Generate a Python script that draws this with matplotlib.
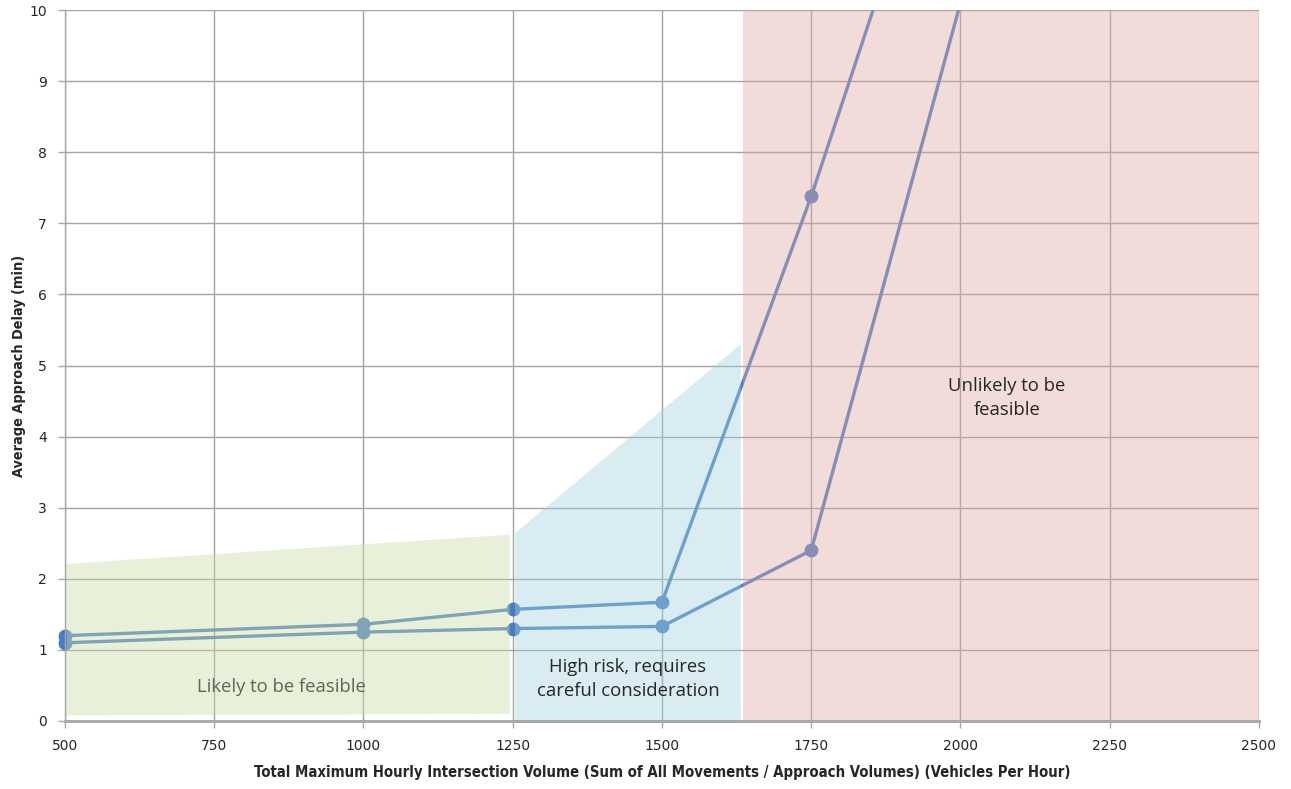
import matplotlib
matplotlib.use("Agg")
import matplotlib.pyplot as plt
from matplotlib.patches import Polygon, Rectangle

# Intersection volume (veh/h) and average approach delay (min)
volumes = [500, 1000, 1250, 1500, 1750, 2000]
delay_upper = [1.20, 1.36, 1.57, 1.67, 7.38, 13.7]
delay_lower = [1.10, 1.25, 1.30, 1.33, 2.40, 10.1]

x_ticks = [500, 750, 1000, 1250, 1500, 1750, 2000, 2250, 2500]
y_ticks = list(range(0, 11))

# Feasibility zones (volume, delay) outlines
zone_feasible = [(503, 0.08), (1245, 0.1), (1245, 2.62), (503, 2.21)]
zone_risk = [(1254, -0.03), (1632, -0.03), (1632, 5.30), (1254, 2.64)]
zone_unlikely_x = (1636, 2500)

fig = plt.figure(figsize=(12.91, 7.89), dpi=100)
ax = fig.add_axes([0.0503, 0.0862, 0.9249, 0.9011])
ax.set_xlim(500, 2500)
ax.set_ylim(0, 10)

grid_col = "#a3a3a3"
ax.set_xticks(x_ticks)
ax.set_yticks(y_ticks)
ax.grid(True, color=grid_col, linewidth=1.0, zorder=0.5)
ax.set_axisbelow(True)

line_col = "#4a7cc0"
for ys in (delay_upper, delay_lower):
    ax.plot(volumes, ys, color=line_col, linewidth=2.4, zorder=2,
            solid_joinstyle="round")
    pts = ax.plot(volumes, ys, linestyle="none", marker="o", markersize=9,
                  color=line_col, zorder=2.1)[0]
    clip = Rectangle((-0.02, 0), 1.04, 1, transform=ax.transAxes,
                     facecolor="none", edgecolor="none")
    ax.add_artist(clip)
    pts.set_clip_path(clip)

# Translucent zones laid over the grid and the curves
ax.add_patch(Polygon(zone_feasible, closed=True, facecolor="#c9dca6",
                     edgecolor="none", alpha=0.42, zorder=3, clip_on=False))
ax.add_patch(Polygon(zone_risk, closed=True, facecolor="#a2d3df",
                     edgecolor="none", alpha=0.42, zorder=3, clip_on=False))
ax.add_patch(Rectangle((zone_unlikely_x[0], 0), zone_unlikely_x[1] - zone_unlikely_x[0], 10,
                       facecolor="#dfaaa7", edgecolor="none", alpha=0.41, zorder=3))

txt_font = "Open Sans"
ax.text(862, 0.48, "Likely to be feasible", ha="center", va="center",
        fontsize=13.3, color="#5d6756", family=txt_font, zorder=5)
ax.text(1443, 0.59, "High risk, requires\ncareful consideration", ha="center",
        va="center", fontsize=13.3, color="#262626", family=txt_font,
        linespacing=1.45, zorder=5)
ax.text(2078, 4.54, "Unlikely to be\nfeasible", ha="center", va="center",
        fontsize=13.3, color="#262626", family=txt_font, linespacing=1.45,
        zorder=5)

for side in ("top", "right"):
    ax.spines[side].set_visible(False)
ax.spines["left"].set_color("#a6a6a6")
ax.spines["left"].set_linewidth(1.0)
ax.spines["bottom"].set_color("#a6a6a6")
ax.spines["bottom"].set_linewidth(2.0)
ax.spines["left"].set_zorder(4)
ax.spines["bottom"].set_zorder(4)

ax.tick_params(axis="y", length=5, width=1, color="#a6a6a6", pad=8,
               labelsize=10, labelcolor="#262626")
ax.tick_params(axis="x", length=5, width=1, color="#a6a6a6", pad=8,
               labelsize=10, labelcolor="#262626")
for lab in ax.get_xticklabels() + ax.get_yticklabels():
    lab.set_family("DejaVu Sans")

ax.set_xlabel("Total Maximum Hourly Intersection Volume (Sum of All Movements / Approach Volumes) (Vehicles Per Hour)",
              fontsize=10.7, fontweight="bold", family="DejaVu Sans",
              fontstretch="condensed", color="#262626")
ax.xaxis.set_label_coords(0.5, -0.062)
ax.set_ylabel("Average Approach Delay (min)", fontsize=10.4, fontweight="bold",
              family="DejaVu Sans", fontstretch="condensed", color="#262626")
ax.yaxis.set_label_coords(-0.033, 0.5)

fig.savefig("out.png", dpi=100)
